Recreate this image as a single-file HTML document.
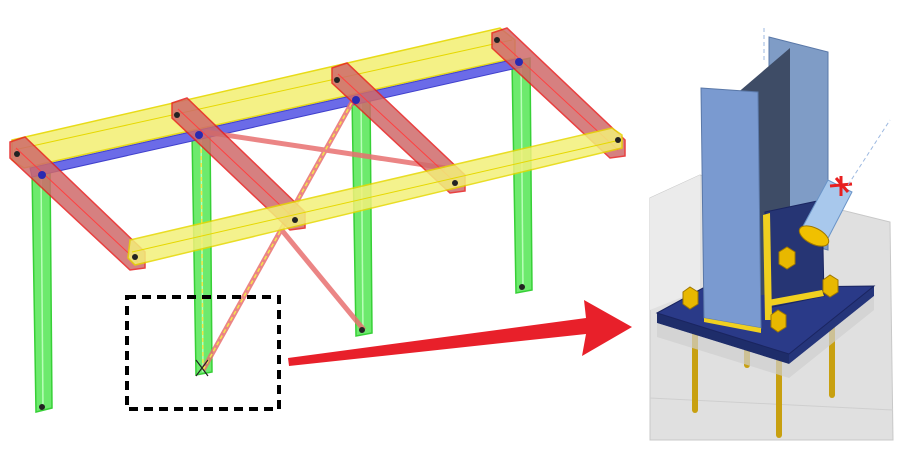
<!DOCTYPE html>
<html><head><meta charset="utf-8"><style>
html,body{margin:0;padding:0;background:#fff;width:915px;height:459px;overflow:hidden}
svg{display:block}
</style></head><body>
<svg width="915" height="459" viewBox="0 0 915 459" xmlns="http://www.w3.org/2000/svg">
<g fill="#5ee85e" stroke="#22cc22" stroke-width="1.5" opacity="0.9">
<polygon points="32,170 50,165 52,408 36,412"/>
<polygon points="192,132 210,128 212,372 196,375"/>
<polygon points="352,97 370,93 372,333 356,336"/>
<polygon points="512,62 530,58 532,290 516,293"/>
</g>
<g stroke="#b8ffb8" stroke-width="1.5">
<line x1="41" y1="170" x2="43" y2="410"/><line x1="201" y1="132" x2="203" y2="372"/>
<line x1="361" y1="97" x2="363" y2="333"/><line x1="521" y1="62" x2="523" y2="290"/>
</g>
<polygon points="12,140 500,28 515,40 515,58 24,168 12,160" fill="#f3f07a" stroke="#e6d800" stroke-width="1.5" opacity="0.9"/>
<line x1="14" y1="150" x2="512" y2="40" stroke="#e6d800"/>
<polygon points="30,168 520,58 522,67 32,177" fill="#6b6be8" stroke="#4040cc"/>
<g stroke="#e87070" stroke-width="5" opacity="0.85">
<line x1="205" y1="132" x2="445" y2="168"/>
<line x1="355" y1="97" x2="203" y2="370"/>
<line x1="280" y1="228" x2="364" y2="330"/>
</g>
<line x1="355" y1="97" x2="203" y2="370" stroke="#f5e64a" stroke-width="1.5" stroke-dasharray="4,3"/>
<line x1="201" y1="135" x2="203" y2="370" stroke="#f5e64a" stroke-width="1.5" stroke-dasharray="4,3"/>
<g fill="#cf6a6a" stroke="#e62020" stroke-width="1.5" opacity="0.85">
<polygon points="10,142 25,137 145,252 145,268 130,270 10,158"/>
<polygon points="172,103 187,98 305,212 305,228 290,230 172,118"/>
<polygon points="332,68 347,63 465,175 465,191 450,193 332,83"/>
<polygon points="492,33 507,28 625,140 625,156 610,158 492,48"/>
</g>
<g stroke="#ff4040" stroke-width="1">
<line x1="16" y1="148" x2="138" y2="262"/><line x1="178" y1="109" x2="298" y2="222"/>
<line x1="338" y1="74" x2="458" y2="185"/><line x1="498" y1="39" x2="618" y2="150"/>
</g>
<polygon points="130,240 612,128 622,135 622,148 135,265 128,258" fill="#f3f07a" stroke="#e6d800" stroke-width="1.5" opacity="0.85"/>
<line x1="132" y1="252" x2="620" y2="140" stroke="#e6d800"/>
<g fill="#222">
<circle cx="17" cy="154" r="3"/><circle cx="177" cy="115" r="3"/><circle cx="337" cy="80" r="3"/><circle cx="497" cy="40" r="3"/>
<circle cx="135" cy="257" r="3"/><circle cx="295" cy="220" r="3"/><circle cx="455" cy="183" r="3"/><circle cx="618" cy="140" r="3"/>
<circle cx="42" cy="407" r="3"/><circle cx="362" cy="330" r="3"/><circle cx="522" cy="287" r="3"/>
</g>
<g fill="#2a2ab0"><circle cx="42" cy="175" r="4"/><circle cx="199" cy="135" r="4"/><circle cx="356" cy="100" r="4"/><circle cx="519" cy="62" r="4"/></g>
<rect x="127" y="297" width="152" height="112" fill="none" stroke="#000" stroke-width="4" stroke-dasharray="9,6"/>
<path d="M196 360 L208 376 M208 360 L196 376" stroke="#222" stroke-width="1.2"/>
<polygon points="288,358 586,318 584,300 632,327 582,356 586,334 289,366" fill="#e8202a"/>
<!-- concrete -->
<polygon points="650,198 700,175 890,222 893,440 650,440" fill="#e0e0e0" stroke="#c8c8c8"/>
<polygon points="650,198 700,175 700,290 650,310" fill="#ebebeb"/>
<line x1="650" y1="398" x2="893" y2="410" stroke="#cfcfcf"/>
<g stroke="#c8a010" stroke-width="6" stroke-linecap="round">
<line x1="695" y1="320" x2="695" y2="410"/><line x1="747" y1="320" x2="747" y2="365"/>
<line x1="779" y1="330" x2="779" y2="435"/><line x1="832" y1="300" x2="832" y2="395"/>
</g>
<polygon points="657,313 789,354 789,364 657,323" fill="#1e2d6a"/>
<polygon points="789,354 874,286 874,296 789,364" fill="#25357a"/>
<polygon points="657,313 703,288 874,286 789,354" fill="#2a3a88" stroke="#1a2560"/>
<polygon points="657,323 789,364 874,296 874,310 789,378 657,337" fill="#cfcfcf" opacity="0.7"/>
<polygon points="769,37 828,52 828,250 769,235" fill="#7f9cc6" stroke="#5a78a8"/>
<polygon points="735,95 790,48 790,290 735,300" fill="#3e4c66"/>
<polygon points="765,212 822,200 824,296 768,308" fill="#263574" stroke="#1a2560"/>
<polygon points="763,215 770,213 772,320 765,320" fill="#f0d020"/>
<polygon points="768,300 822,290 824,296 770,306" fill="#f0d020"/>
<polygon points="802,228 828,180 852,192 826,242" fill="#a8c8ec" stroke="#6a94c8"/>
<ellipse cx="814" cy="236" rx="16" ry="8" fill="#f0c000" stroke="#a07800" transform="rotate(27 814 236)"/>
<path d="M836 178 L848 192 M830 186 L852 184 M841 176 L841 196" stroke="#e82020" stroke-width="3"/>
<line x1="848" y1="185" x2="890" y2="120" stroke="#9cb8e0" stroke-dasharray="4,3"/>
<line x1="764" y1="28" x2="764" y2="60" stroke="#9cb8e0" stroke-dasharray="4,3"/>
<polygon points="701,88 758,92 761,328 704,318" fill="#7a9ad0" stroke="#5a78a8"/>
<polygon points="704,318 761,328 761,333 704,322" fill="#f0d020"/>
<g fill="#e8b800" stroke="#a07800">
<polygon points="683,292 690,287 698,292 698,304 690,309 683,304"/>
<polygon points="771,315 778,310 786,315 786,327 778,332 771,327"/>
<polygon points="823,280 830,275 838,280 838,292 830,297 823,292"/>
<polygon points="779,252 787,247 795,252 795,264 787,269 779,264"/>
</g>
</svg>
</body></html>
